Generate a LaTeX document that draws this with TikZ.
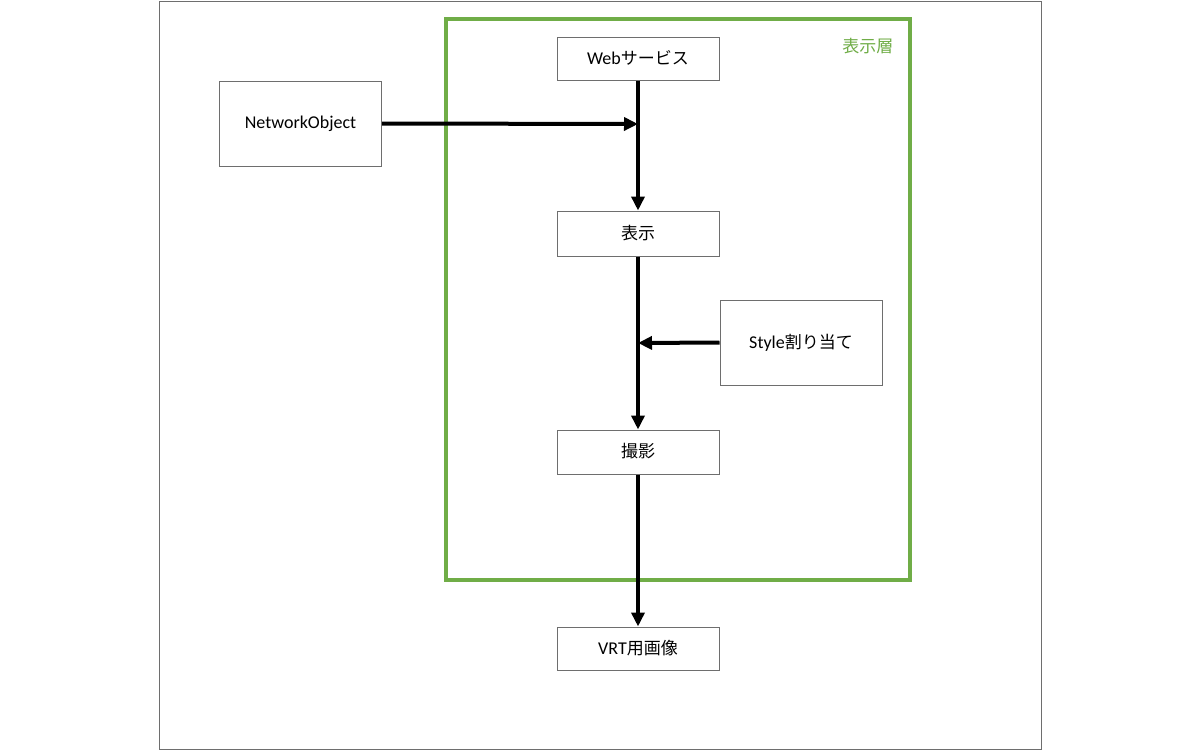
\documentclass[tikz,border=0pt]{standalone}
\usepackage{fontspec}
\setmainfont{Carlito}
\newfontfamily\jp{Noto Sans CJK JP}
\usetikzlibrary{arrows.meta}
\definecolor{layergreen}{RGB}{112,173,71}
\definecolor{boxgray}{RGB}{110,110,110}
\begin{document}
\begin{tikzpicture}[x=1pt,y=-1pt,
  box/.style={draw=boxgray,line width=1pt,fill=white,minimum width=162pt,inner sep=0pt,text depth=3pt,font=\fontsize{18}{21}\selectfont},
  flow/.style={line width=4pt,-{Triangle[length=14pt,width=13pt]}}]
\useasboundingbox (0,0) rectangle (1200,750);
\fill[white] (0,0) rectangle (1200,750);
\draw[boxgray,line width=1pt] (159,1) rectangle (1041,749);
\draw[layergreen,line width=4pt] (446,19) rectangle (910,580);
\node[anchor=east,text=layergreen,font=\fontsize{17}{20}\selectfont\jp] (lbl) at (897,46) {表示層};
\node[box,minimum height=43pt] (web) at (638,58.5) {Web{\jp\fontsize{17}{20}\selectfont サービス}};
\node[box,minimum height=85pt] (net) at (300.5,123.5) {NetworkObject};
\node[box,minimum height=45pt] (disp) at (638,233.5) {{\jp\fontsize{17}{20}\selectfont 表示}};
\node[box,minimum height=85pt] (style) at (801,342.5) {Style{\jp\fontsize{17}{20}\selectfont 割り当て}};
\node[box,minimum height=44pt] (shoot) at (638,452) {{\jp\fontsize{17}{20}\selectfont 撮影}};
\node[box,minimum height=43pt] (vrt) at (638,648.5) {VRT{\jp\fontsize{17}{20}\selectfont 用画像}};
\coordinate (j1) at (638,124);
\coordinate (j2) at (638,343);
\draw[flow] (web.south) -- (disp.north);
\draw[flow] (net.east) -- (j1);
\draw[flow] (disp.south) -- (shoot.north);
\draw[flow] (style.west) -- (j2);
\draw[flow] (shoot.south) -- (vrt.north);
\end{tikzpicture}
\end{document}
